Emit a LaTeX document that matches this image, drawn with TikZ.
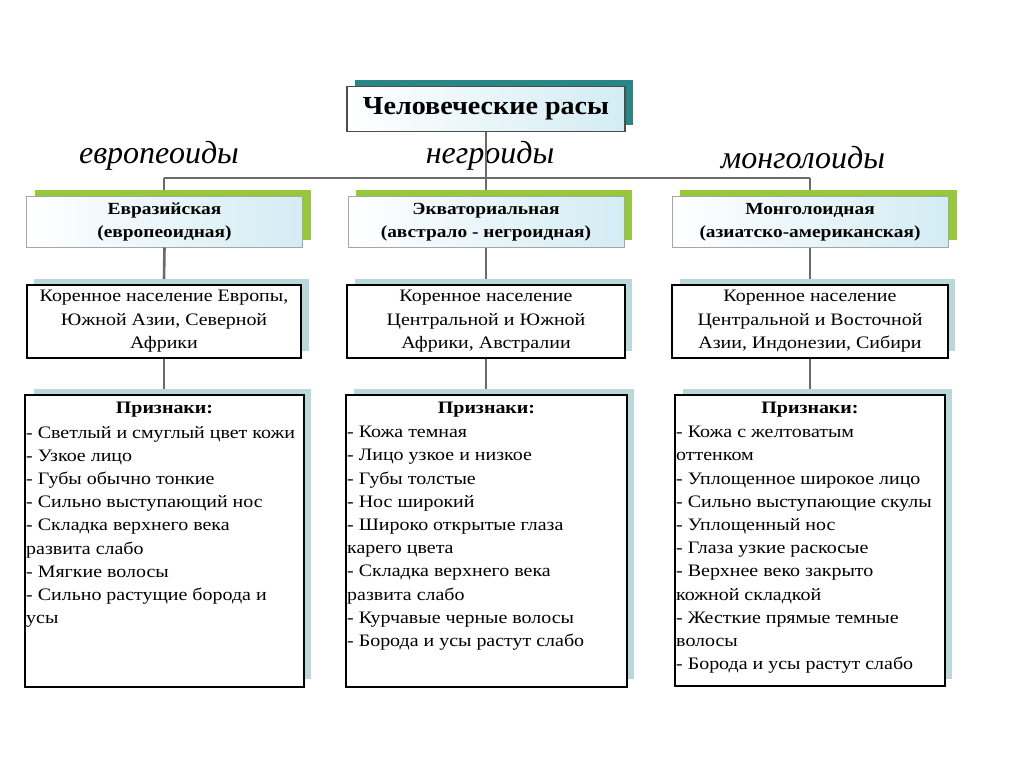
\documentclass[tikz,border=0pt]{standalone}
\usepackage{fontspec}
\setmainfont{Liberation Serif}[FakeStretch=1.14]
\newfontfamily\titlef{Liberation Serif}[FakeStretch=1.08]
\newfontfamily\labelf{Liberation Serif}
\definecolor{tealdark}{HTML}{2A8585}
\definecolor{greenshadow}{HTML}{96C83C}
\definecolor{lightshadow}{HTML}{B9D8DA}
\definecolor{boxblue}{HTML}{D3ECF3}
\definecolor{linegray}{HTML}{6A6A6A}
\begin{document}
\begin{tikzpicture}[x=1pt,y=-1pt,
  conn/.style={draw=linegray,line width=2.6pt},
  titlebox/.style={draw=black!70,line width=1.2pt,left color=white,right color=boxblue,minimum width=278pt,minimum height=45pt,inner sep=0pt},
  racebox/.style={draw=black!35,line width=1pt,left color=white,right color=boxblue,minimum width=276pt,minimum height=50pt,inner sep=0pt,align=center,font=\fontsize{17}{22.5}\selectfont\bfseries},
  popbox/.style={draw=black,line width=1.3pt,fill=white,minimum height=73pt,inner sep=0pt},
  featbox/.style={draw=black,line width=1.3pt,fill=white,inner sep=0pt},
  poptext/.style={align=center,inner sep=0pt,font=\fontsize{17.5}{23.5}\selectfont},
  feathead/.style={inner sep=0pt,font=\fontsize{17.5}{23.2}\selectfont\bfseries},
  featlist/.style={anchor=north west,align=left,inner sep=0pt,font=\fontsize{17.5}{23.2}\selectfont},
  racelabel/.style={inner sep=0pt,font=\labelf\fontsize{32}{36}\selectfont\itshape}
]
\useasboundingbox (0,0) rectangle (1024,767);
\fill[white] (0,0) rectangle (1024,767);

\coordinate (busL) at (164,178);
\coordinate (busR) at (810,178);

% title
\fill[tealdark] (355,80) rectangle (633,125);
\node[titlebox] (title) at (486,109) {\titlef\fontsize{26}{28}\selectfont\bfseries Человеческие расы};

% labels
\node[racelabel] (l1) at (159,156) {европеоиды};
\node[racelabel] (l2) at (490,156) {негроиды};
\node[racelabel] (l3) at (803,158) {монголоиды};

% shadows
\fill[greenshadow] (35,190) rectangle (311,240);
\fill[greenshadow] (356,190) rectangle (632,240);
\fill[greenshadow] (680,190) rectangle (957,240);
\fill[lightshadow] (34,279) rectangle (309,351);
\fill[lightshadow] (355,279) rectangle (632,351);
\fill[lightshadow] (680,279) rectangle (955,351);
\fill[lightshadow] (34,389) rectangle (311,679);
\fill[lightshadow] (354,389) rectangle (634,679);
\fill[lightshadow] (683,389) rectangle (952,679);

% boxes
\node[racebox] (r1) at (164.5,222) {Евразийская\\(европеоидная)};
\node[racebox] (r2) at (486,222) {Экваториальная\\(австрало - негроидная)};
\node[racebox] (r3) at (810,222) {Монголоидная\\(азиатско-американская)};

\node[popbox,minimum width=274pt] (p1) at (164,321.5) {};
\node[popbox,minimum width=278pt] (p2) at (486,321.5) {};
\node[popbox,minimum width=276pt] (p3) at (810,321.5) {};

\node[featbox,minimum width=279pt,minimum height=292pt] (f1) at (164.5,541) {};
\node[featbox,minimum width=281pt,minimum height=292pt] (f2) at (486.5,541) {};
\node[featbox,minimum width=270pt,minimum height=291pt] (f3) at (810,540.5) {};

% connectors
\draw[conn] (busL) -- (busR);
\draw[conn] (title.south) -- (title.south |- busL);
\draw[conn] (busL) -- (164,190);
\draw[conn] (title.south |- busL) -- (486,190);
\draw[conn] (busR) -- (810,190);
\draw[conn] (r1.south) -- (164,279);
\draw[conn] (r2.south) -- (486,279);
\draw[conn] (r3.south) -- (810,279);
\draw[conn] (p1.south) -- (164,389);
\draw[conn] (p2.south) -- (486,389);
\draw[conn] (p3.south) -- (810,389);

% population texts
\node[poptext] (pt1) at (p1) {Коренное население Европы,\\Южной Азии, Северной\\Африки};
\node[poptext] (pt2) at (p2) {Коренное население\\Центральной и Южной\\Африки, Австралии};
\node[poptext] (pt3) at (p3) {Коренное население\\Центральной и Восточной\\Азии, Индонезии, Сибири};

% feature texts
\node[feathead] (fh1) at (164.5,410) {Признаки:};
\node[feathead] (fh2) at (486.5,410) {Признаки:};
\node[feathead] (fh3) at (810,410) {Признаки:};

\node[featlist] (fl1) at (26,426) {- Светлый и смуглый цвет кожи\\- Узкое лицо\\- Губы обычно тонкие\\- Сильно выступающий нос\\- Складка верхнего века\\развита слабо\\- Мягкие волосы\\- Сильно растущие борода и\\усы};
\node[featlist] (fl2) at (347,426) {- Кожа темная\\- Лицо узкое и низкое\\- Губы толстые\\- Нос широкий\\- Широко открытые глаза\\карего цвета\\- Складка верхнего века\\развита слабо\\- Курчавые черные волосы\\- Борода и усы растут слабо};
\node[featlist] (fl3) at (676,426) {- Кожа с желтоватым\\оттенком\\- Уплощенное широкое лицо\\- Сильно выступающие скулы\\- Уплощенный нос\\- Глаза узкие раскосые\\- Верхнее веко закрыто\\кожной складкой\\- Жесткие прямые темные\\волосы\\- Борода и усы растут слабо};
\end{tikzpicture}
\end{document}
